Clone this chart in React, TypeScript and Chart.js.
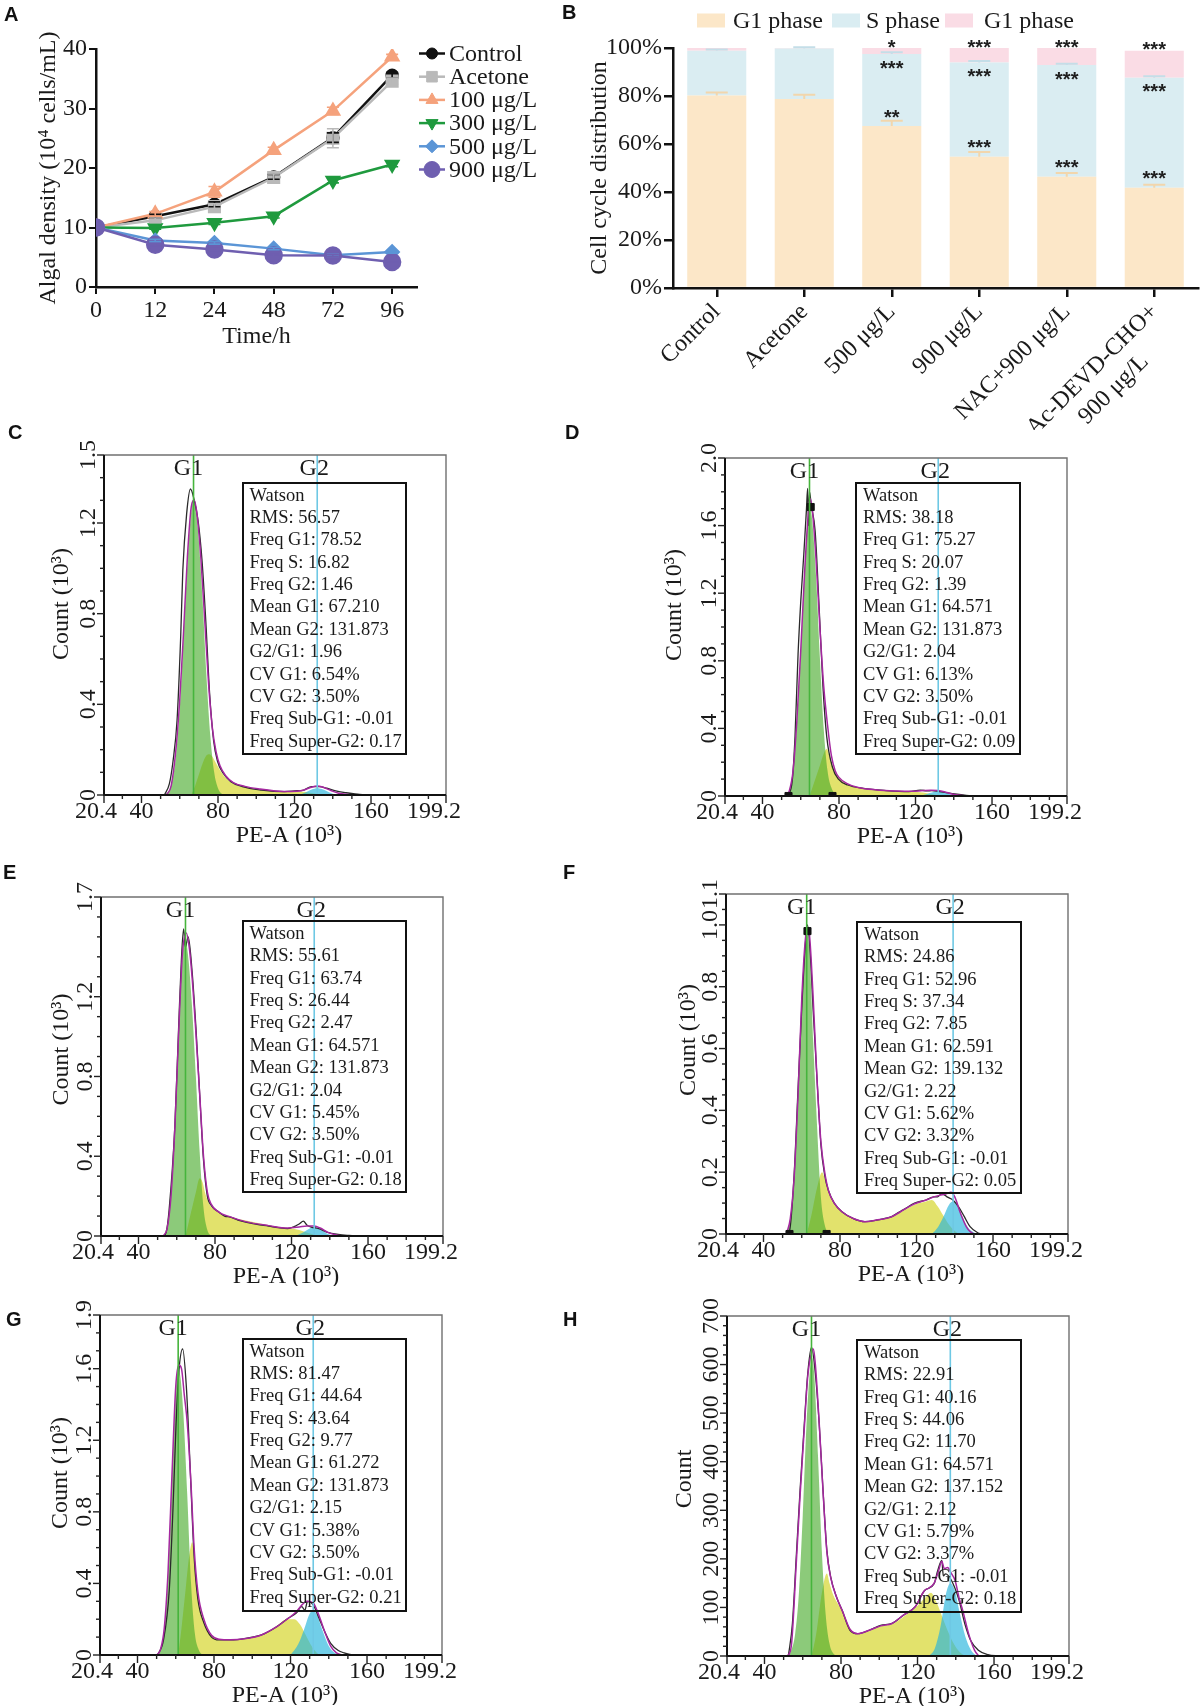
import React, { useEffect, useRef } from "react";
import { Chart, registerables } from "chart.js";
import { drawPoint } from "chart.js/helpers";
Chart.register(...registerables);

const SERIF = "'Liberation Serif', 'Times New Roman', serif";
const SANS = "'Liberation Sans', Arial, sans-serif";
const INK = "#1a1a1a";
Chart.defaults.font.family = SERIF;
Chart.defaults.color = INK;

// ---------------- Panel A data ----------------
const TIME_LABELS = ["0", "12", "24", "48", "72", "96"];
const CONTROL = [10.0, 11.9, 13.9, 18.5, 25.1, 35.6];
const ACETONE = [10.0, 11.2, 13.5, 18.4, 25.0, 34.6];
const D100 = [10.0, 12.3, 16.0, 23.0, 29.6, 38.7];
const D300 = [10.0, 9.9, 10.8, 11.9, 17.9, 20.6];
const D500 = [10.0, 7.8, 7.4, 6.45, 5.35, 5.9];
const D900 = [10.0, 7.1, 6.3, 5.35, 5.3, 4.2];
const CONTROL_ERR = [0, 0.3, 0.4, 0.4, 0.8, 0.5];
const ACETONE_ERR = [0, 0.4, 0.5, 0.6, 1.6, 0.5];
const D100_ERR = [0, 0.4, 0.9, 0.5, 0.6, 0.4];
const D300_ERR = [0, 0.2, 0.3, 0.3, 0.4, 0.4];
const D500_ERR = [0, 0.2, 0.2, 0.2, 0.2, 0.2];
const D900_ERR = [0, 0.2, 0.2, 0.2, 0.2, 0.2];

// ---------------- Panel B data ----------------
const B_CATS: any[] = ["Control", "Acetone", "500 μg/L", "900 μg/L", "NAC+900 μg/L", ["Ac-DEVD-CHO+", "900 μg/L\u00a0\u00a0\u00a0\u00a0\u00a0\u00a0\u00a0"]];
const B_SERIES_LABELS = ["G1 phase", "S phase", "G1 phase"];
const G1_PCT = [80.2, 78.8, 67.5, 54.7, 46.4, 41.8];
const S_PCT = [18.7, 21.0, 30.0, 39.3, 46.5, 45.8];
const G2_PCT = [1.1, 0.2, 2.5, 6.0, 7.1, 11.3];
const G1_ERR = [1.3, 1.7, 2.2, 2.0, 1.5, 1.2];
const S_ERR = [0.5, 0.5, 0.7, 0.6, 0.5, 0.6];
const STARS_G1 = ["", "", "**", "***", "***", "***"];
const STARS_S = ["", "", "***", "***", "***", "***"];
const STARS_G2 = ["", "", "*", "***", "***", "***"];

// ---------------- Flow cytometry data ----------------
const X_TICK_VALUES = [20.4, 40, 80, 120, 160, 199.2];
const X_TICK_LABELS = ["20.4", "40", "80", "120", "160", "199.2"];
const X_MINOR = [30, 50, 60, 70, 90, 100, 110, 130, 140, 150, 170, 180, 190];
const MEAN_G1 = [67.21, 64.571, 64.571, 62.591, 61.272, 64.571];
const MEAN_G2 = [131.873, 131.873, 131.873, 139.132, 131.873, 137.152];

const C_YTICKS = [0, 0.4, 0.8, 1.2, 1.5];
const C_YLABELS = ["0", "0.4", "0.8", "1.2", "1.5"];
const D_YTICKS = [0, 0.4, 0.8, 1.2, 1.6, 2.0];
const D_YLABELS = ["0", "0.4", "0.8", "1.2", "1.6", "2.0"];
const E_YTICKS = [0, 0.4, 0.8, 1.2, 1.7];
const E_YLABELS = ["0", "0.4", "0.8", "1.2", "1.7"];
const F_YTICKS = [0, 0.2, 0.4, 0.6, 0.8, 1.0, 1.1];
const F_YLABELS = ["0", "0.2", "0.4", "0.6", "0.8", "1.0", "1.1"];
const G_YTICKS = [0, 0.4, 0.8, 1.2, 1.6, 1.9];
const G_YLABELS = ["0", "0.4", "0.8", "1.2", "1.6", "1.9"];
const H_YTICKS = [0, 100, 200, 300, 400, 500, 600, 700];
const H_YLABELS = ["0", "100", "200", "300", "400", "500", "600", "700"];

const C_G1 = [[52, 0], [54, 0.015], [56, 0.06], [58, 0.17], [60, 0.38], [62, 0.7], [64, 1.02], [66, 1.25], [67.2, 1.29], [68.5, 1.26], [70, 1.12], [72, 0.85], [74, 0.52], [76, 0.26], [78, 0.1], [80, 0.03], [82, 0.005], [84, 0]];
const C_S = [[66, 0], [68, 0.04], [70, 0.09], [72, 0.14], [74, 0.175], [75.5, 0.18], [77, 0.17], [79, 0.14], [81, 0.11], [84, 0.075], [88, 0.05], [92, 0.037], [98, 0.027], [105, 0.02], [112, 0.016], [118, 0.015], [124, 0.014], [128, 0.01], [131, 0.005], [133, 0]];
const C_G2 = [[122, 0], [126, 0.012], [129, 0.024], [131.9, 0.03], [135, 0.024], [138, 0.012], [142, 0]];
const C_FIT = [[53, 0], [55.5, 0.04], [58, 0.2], [60, 0.42], [62, 0.72], [64, 1.05], [66, 1.27], [67.6, 1.3], [69, 1.24], [71, 1.05], [73, 0.78], [75, 0.5], [77, 0.3], [79, 0.19], [81, 0.13], [84, 0.085], [88, 0.055], [94, 0.038], [102, 0.026], [110, 0.018], [118, 0.015], [124, 0.02], [128, 0.032], [131.9, 0.04], [135, 0.034], [139, 0.02], [143, 0.008], [148, 0.002], [151, 0]];
const C_RAW = [[52, 0], [54.6, 0.05], [56.5, 0.15], [58.6, 0.33], [60.5, 0.7], [61.6, 0.99], [63.6, 1.24], [65.6, 1.35], [67.6, 1.3], [69.6, 1.21], [71.6, 1.04], [73.6, 0.77], [75.6, 0.45], [77.7, 0.24], [79.7, 0.15], [82.7, 0.096], [86.7, 0.059], [92.7, 0.037], [102.8, 0.022], [114.8, 0.015], [120, 0.018], [124.9, 0.022], [128.9, 0.037], [132.9, 0.037], [136.9, 0.03], [141, 0.019], [147, 0.01], [154, 0.003], [157, 0]];

const D_G1 = [[51, 0], [53, 0.01], [55, 0.07], [57, 0.27], [59, 0.62], [61, 1.08], [63, 1.52], [64.6, 1.72], [66, 1.63], [68, 1.3], [70, 0.82], [72, 0.4], [74, 0.15], [76, 0.05], [78, 0.01], [80, 0]];
const D_S = [[64.6, 0], [67, 0.08], [70, 0.18], [72, 0.25], [73.6, 0.28], [75, 0.24], [77, 0.17], [80, 0.11], [84, 0.075], [90, 0.05], [100, 0.035], [110, 0.028], [118, 0.025], [124, 0.02], [128, 0.012], [132, 0.004], [134, 0]];
const D_G2 = [[122, 0], [126, 0.012], [129, 0.022], [131.9, 0.028], [135, 0.022], [138, 0.01], [142, 0]];
const D_FIT = [[52, 0], [54, 0.03], [56, 0.15], [58, 0.45], [60, 0.86], [62, 1.32], [64, 1.68], [64.8, 1.76], [66, 1.7], [68, 1.4], [70, 1.0], [72, 0.65], [74, 0.42], [76, 0.24], [78, 0.15], [80, 0.11], [84, 0.075], [90, 0.05], [100, 0.036], [110, 0.03], [118, 0.028], [124, 0.032], [128, 0.034], [131.9, 0.032], [135, 0.025], [139, 0.012], [143, 0.004], [147, 0]];
const D_RAW = [[52, 0], [53.6, 0.01], [55.6, 0.095], [57, 0.35], [58.6, 0.84], [60, 1.15], [61.6, 1.43], [63, 1.7], [63.6, 1.82], [64.2, 1.6], [64.6, 1.8], [65.5, 1.72], [67.5, 1.57], [69.6, 1.12], [71.6, 0.65], [73.6, 0.35], [76.6, 0.17], [79.7, 0.1], [84.6, 0.065], [92.7, 0.045], [104.6, 0.032], [116.5, 0.026], [122.5, 0.035], [126, 0.03], [128.5, 0.032], [132.5, 0.026], [136, 0.02], [140.5, 0.012], [148, 0.002], [152, 0]];
const D_MARK = [[65.2, 1.71], [53.6, 0], [76.6, 0]];

const E_G1 = [[53, 0], [55, 0.04], [57, 0.2], [59, 0.53], [61, 1.0], [63, 1.4], [64.6, 1.48], [66, 1.4], [68, 1.15], [70, 0.8], [72, 0.42], [74, 0.14], [76, 0.03], [78, 0]];
const E_S = [[64.6, 0], [67, 0.1], [70, 0.22], [72, 0.29], [73.5, 0.27], [75, 0.21], [77, 0.16], [80, 0.13], [85, 0.105], [90, 0.09], [100, 0.07], [110, 0.05], [118, 0.04], [124, 0.03], [128, 0.018], [132, 0.006], [134, 0]];
const E_G2 = [[122, 0], [126, 0.018], [129, 0.035], [131.9, 0.045], [135, 0.035], [138, 0.015], [142, 0]];
const E_FIT = [[53, 0], [55, 0.04], [57, 0.2], [59, 0.54], [61, 1.02], [63, 1.42], [65, 1.52], [66.5, 1.45], [68, 1.3], [70, 1.02], [72, 0.71], [74, 0.4], [76, 0.22], [78, 0.16], [82, 0.12], [88, 0.096], [96, 0.072], [108, 0.052], [118, 0.04], [124, 0.045], [128, 0.05], [131.9, 0.05], [135, 0.04], [139, 0.018], [143, 0.006], [147, 0]];
const E_RAW = [[53, 0], [54.5, 0.02], [56, 0.13], [59, 0.55], [61, 1.05], [62.4, 1.38], [63.6, 1.54], [64.5, 1.45], [66, 1.5], [68, 1.33], [70, 1.05], [72, 0.71], [74, 0.38], [76, 0.2], [78, 0.154], [82, 0.12], [85, 0.1], [88, 0.095], [92, 0.08], [96, 0.07], [102, 0.058], [108, 0.05], [113, 0.042], [118, 0.037], [122, 0.05], [124, 0.06], [126.2, 0.075], [128, 0.055], [130.3, 0.045], [134.3, 0.037], [138.4, 0.02], [144.4, 0.008], [150, 0.003], [156, 0]];

const F_G1 = [[52, 0], [54, 0.05], [56, 0.17], [58, 0.42], [60, 0.74], [62, 0.95], [62.6, 0.97], [64, 0.92], [66, 0.62], [68, 0.35], [70, 0.12], [72, 0.03], [74, 0]];
const F_S = [[62.6, 0], [65, 0.06], [68, 0.15], [70.6, 0.2], [72, 0.18], [74, 0.14], [77, 0.1], [81, 0.072], [87, 0.05], [93, 0.04], [99, 0.045], [107, 0.056], [113, 0.075], [119, 0.095], [125, 0.105], [128, 0.11], [131, 0.09], [134, 0.06], [137, 0.03], [140, 0.01], [142, 0]];
const F_G2 = [[128, 0], [131, 0.02], [134, 0.055], [137, 0.095], [139.1, 0.105], [141, 0.095], [144, 0.055], [147, 0.02], [150, 0.005], [152, 0]];
const F_FIT = [[52, 0], [54, 0.05], [56, 0.18], [58, 0.44], [60, 0.76], [62, 0.96], [63.6, 0.99], [65, 0.88], [66, 0.76], [68, 0.5], [70, 0.3], [72, 0.2], [74, 0.14], [77, 0.1], [81, 0.072], [87, 0.05], [93, 0.04], [99, 0.045], [107, 0.056], [113, 0.077], [119, 0.098], [125, 0.11], [129, 0.12], [132, 0.125], [135.5, 0.13], [138, 0.135], [140, 0.12], [143, 0.067], [146, 0.024], [148, 0.008], [150, 0]];
const F_RAW = [[52, 0], [53.6, 0.01], [56, 0.19], [58, 0.46], [60, 0.73], [61.6, 0.91], [63, 1.0], [64.6, 0.89], [66, 0.72], [68, 0.5], [70, 0.29], [72, 0.19], [74, 0.14], [77, 0.1], [81, 0.072], [87, 0.05], [93, 0.04], [99, 0.045], [103, 0.05], [107, 0.056], [110, 0.068], [113, 0.078], [119, 0.1], [125, 0.11], [129, 0.12], [131, 0.12], [133, 0.13], [135, 0.125], [136, 0.12], [139, 0.11], [142, 0.088], [145, 0.056], [148, 0.024], [152, 0.004], [154, 0]];
const F_MARK = [[63.0, 0.98], [53.6, 0], [73.0, 0]];

const G_G1 = [[50, 0], [52, 0.03], [54, 0.14], [56, 0.45], [58, 0.98], [60, 1.48], [61.3, 1.6], [62.5, 1.55], [64, 1.35], [66, 0.9], [68, 0.4], [70, 0.12], [72, 0.03], [74, 0]];
const G_S = [[61.3, 0], [63, 0.15], [65, 0.35], [67, 0.55], [68.6, 0.63], [70, 0.5], [72, 0.33], [74, 0.21], [77, 0.13], [80, 0.1], [85, 0.085], [90, 0.085], [96, 0.09], [104, 0.11], [112, 0.155], [118, 0.2], [122, 0.2], [125, 0.17], [128, 0.11], [131, 0.05], [134, 0.01], [136, 0]];
const G_G2 = [[120, 0], [124, 0.06], [127, 0.14], [130, 0.23], [131.9, 0.25], [134, 0.22], [137, 0.13], [140, 0.05], [143, 0.012], [146, 0]];
const G_FIT = [[50, 0], [52, 0.03], [54, 0.15], [56, 0.47], [58, 1.0], [60, 1.5], [61.6, 1.62], [63, 1.6], [64.5, 1.45], [66, 1.3], [68, 0.95], [69.6, 0.6], [71.6, 0.35], [74.7, 0.2], [78.7, 0.11], [82.7, 0.088], [88.7, 0.085], [96.7, 0.092], [104.8, 0.112], [112.8, 0.158], [118.8, 0.205], [122.9, 0.24], [126, 0.28], [128.5, 0.3], [131.9, 0.29], [134.9, 0.22], [137.9, 0.13], [141, 0.05], [144, 0.012], [147, 0]];
const G_RAW = [[50.5, 0], [53.6, 0.084], [56.6, 0.36], [58.6, 0.83], [60.2, 1.3], [61.6, 1.58], [63.6, 1.71], [65.6, 1.49], [67.6, 1.03], [69.6, 0.55], [71.6, 0.31], [74.7, 0.18], [78.7, 0.1], [82.7, 0.084], [88.7, 0.084], [96.7, 0.093], [104.8, 0.112], [112.8, 0.158], [118.8, 0.205], [122.9, 0.233], [125.9, 0.27], [127.5, 0.25], [128.9, 0.3], [131.9, 0.28], [134.9, 0.205], [137.9, 0.13], [141, 0.065], [145, 0.025], [148, 0.012], [151, 0.004], [154, 0]];

const H_G1 = [[52, 0], [54, 12], [56, 45], [58, 130], [60, 290], [62, 480], [64, 600], [64.6, 615], [66, 580], [68, 410], [70, 215], [72, 85], [74, 25], [76, 5], [78, 0]];
const H_S = [[64.6, 0], [67, 45], [70, 130], [72.6, 170], [74, 150], [76, 125], [78, 110], [81, 90], [85, 55], [89, 45], [95, 52], [101, 62], [107, 66], [113, 82], [119, 100], [124, 120], [127, 130], [130, 110], [133, 80], [136, 50], [139, 25], [142, 8], [145, 0]];
const H_G2 = [[126, 0], [129, 15], [132, 60], [135, 130], [137.2, 150], [139.5, 135], [142, 90], [145, 40], [148, 12], [151, 0]];
const H_FIT = [[52, 0], [54, 20], [56.6, 190], [58.6, 330], [60.6, 455], [62.6, 575], [64.6, 625], [65.6, 632], [66.6, 600], [68.6, 480], [70.6, 340], [72.6, 215], [74.6, 162], [77.6, 122], [80.6, 94], [84.7, 55], [88.7, 46], [94.7, 53], [100.7, 62], [106.7, 67], [112.6, 84], [118.7, 101], [123.7, 135], [126, 140], [128.7, 150], [131, 175], [132.7, 195], [134, 180], [135.7, 182], [137.7, 170], [139.7, 155], [141.7, 120], [143.7, 93], [146.7, 46], [149.8, 12], [152, 0]];
const H_RAW = [[52.5, 0], [54.6, 67], [56.6, 204], [58.6, 341], [60.6, 464], [62.6, 581], [64.6, 636], [66.6, 581], [68.6, 478], [70.6, 341], [72.6, 218], [74.6, 163], [77.6, 122], [80.6, 94], [84.7, 53], [88.7, 46], [94.7, 53], [100.7, 63], [106.7, 67], [112.6, 84], [118.7, 101], [123.7, 135], [128.7, 149], [130.5, 175], [132.7, 197], [133.5, 165], [134.7, 169], [137.7, 156], [141.7, 115], [144.7, 67], [147.8, 32], [151.8, 12], [156.8, 3], [162.8, 0]];

const C_WATSON = ["Watson", "RMS: 56.57", "Freq G1: 78.52", "Freq S: 16.82", "Freq G2: 1.46", "Mean G1: 67.210", "Mean G2: 131.873", "G2/G1: 1.96", "CV G1: 6.54%", "CV G2: 3.50%", "Freq Sub-G1: -0.01", "Freq Super-G2: 0.17"];
const D_WATSON = ["Watson", "RMS: 38.18", "Freq G1: 75.27", "Freq S: 20.07", "Freq G2: 1.39", "Mean G1: 64.571", "Mean G2: 131.873", "G2/G1: 2.04", "CV G1: 6.13%", "CV G2: 3.50%", "Freq Sub-G1: -0.01", "Freq Super-G2: 0.09"];
const E_WATSON = ["Watson", "RMS: 55.61", "Freq G1: 63.74", "Freq S: 26.44", "Freq G2: 2.47", "Mean G1: 64.571", "Mean G2: 131.873", "G2/G1: 2.04", "CV G1: 5.45%", "CV G2: 3.50%", "Freq Sub-G1: -0.01", "Freq Super-G2: 0.18"];
const F_WATSON = ["Watson", "RMS: 24.86", "Freq G1: 52.96", "Freq S: 37.34", "Freq G2: 7.85", "Mean G1: 62.591", "Mean G2: 139.132", "G2/G1: 2.22", "CV G1: 5.62%", "CV G2: 3.32%", "Freq Sub-G1: -0.01", "Freq Super-G2: 0.05"];
const G_WATSON = ["Watson", "RMS: 81.47", "Freq G1: 44.64", "Freq S: 43.64", "Freq G2: 9.77", "Mean G1: 61.272", "Mean G2: 131.873", "G2/G1: 2.15", "CV G1: 5.38%", "CV G2: 3.50%", "Freq Sub-G1: -0.01", "Freq Super-G2: 0.21"];
const H_WATSON = ["Watson", "RMS: 22.91", "Freq G1: 40.16", "Freq S: 44.06", "Freq G2: 11.70", "Mean G1: 64.571", "Mean G2: 137.152", "G2/G1: 2.12", "CV G1: 5.79%", "CV G2: 3.37%", "Freq Sub-G1: -0.01", "Freq Super-G2: 0.18"];

// ---------------- styles ----------------
const B_COLORS = ["rgb(252,231,200)", "rgb(218,237,242)", "rgb(250,220,229)"];
const G1_FILL = "rgba(70,170,40,0.62)";
const S_FILL = "rgb(226,226,108)";
const G2_FILL = "rgba(40,180,220,0.66)";
const G1_LINE = "rgb(70,180,60)";
const G2_LINE = "rgb(110,200,228)";

const pts = (a: number[][]) => a.map(([x, y]) => ({ x, y }));

const A_SERIES = [
  { label: "Control", data: CONTROL, err: CONTROL_ERR, color: "#111111", style: "circle", r: 5.5, rot: 0 },
  { label: "Acetone", data: ACETONE, err: ACETONE_ERR, color: "#b9b9b9", style: "rect", r: 7.5, rot: 0 },
  { label: "100 μg/L", data: D100, err: D100_ERR, color: "#f5a27c", style: "triangle", r: 7, rot: 0 },
  { label: "300 μg/L", data: D300, err: D300_ERR, color: "#1f9a3e", style: "triangle", r: 7, rot: 180 },
  { label: "500 μg/L", data: D500, err: D500_ERR, color: "#5b95d6", style: "rectRot", r: 6.5, rot: 0 },
  { label: "900 μg/L", data: D900, err: D900_ERR, color: "#6f5fb0", style: "circle", r: 8, rot: 0 },
];

function makeA(): any {
  const plugin = {
    id: "aExtras",
    afterDatasetsDraw(chart: any) {
      const { ctx, scales } = chart;
      const xs = scales.x, ys = scales.y;
      ctx.save();
      A_SERIES.forEach((s) => {
        ctx.strokeStyle = s.color;
        ctx.lineWidth = 1.6;
        s.data.forEach((v, j) => {
          const e = s.err[j];
          if (!e) return;
          const px = xs.getPixelForValue(j);
          const y1 = ys.getPixelForValue(v + e), y2 = ys.getPixelForValue(v - e);
          ctx.beginPath();
          ctx.moveTo(px, y1); ctx.lineTo(px, y2);
          ctx.moveTo(px - 6, y1); ctx.lineTo(px + 6, y1);
          ctx.moveTo(px - 6, y2); ctx.lineTo(px + 6, y2);
          ctx.stroke();
        });
      });
      ctx.restore();
    },
    afterDraw(chart: any) {
      const { ctx } = chart;
      ctx.save();
      ctx.font = `24px ${SERIF}`;
      ctx.textBaseline = "middle";
      ctx.textAlign = "left";
      A_SERIES.forEach((s, i) => {
        const y = 53.5 + i * 23.2;
        ctx.strokeStyle = s.color;
        ctx.fillStyle = s.color;
        ctx.lineWidth = 2.5;
        ctx.beginPath(); ctx.moveTo(419, y); ctx.lineTo(445, y); ctx.stroke();
        ctx.lineWidth = 1;
        drawPoint(ctx, { pointStyle: s.style, rotation: s.rot, radius: s.r, borderWidth: 1 } as any, 432, y);
        ctx.fillStyle = INK;
        ctx.fillText(s.label, 449, y + 1);
      });
      ctx.restore();
    },
  };
  return {
    type: "line",
    data: {
      datasets: A_SERIES.map((s, i) => ({
        label: s.label,
        data: s.data.map((y, j) => ({ x: j, y })),
        borderColor: s.color,
        backgroundColor: s.color,
        pointBackgroundColor: s.color,
        pointBorderColor: s.color,
        pointStyle: s.style,
        pointRotation: s.rot,
        pointRadius: s.r,
        borderWidth: 2.5,
        tension: 0,
        order: 6 - i,
      })),
    },
    options: {
      responsive: false,
      animation: false,
      layout: { padding: { left: 30, top: 49, right: 143, bottom: 0 } },
      plugins: { legend: { display: false }, tooltip: { enabled: false } },
      scales: {
        x: {
          type: "linear",
          min: 0,
          max: 5.42,
          afterBuildTicks: (s: any) => { s.ticks = TIME_LABELS.map((_, i) => ({ value: i })); },
          afterFit: (s: any) => { s.height = 68; },
          ticks: { callback: (v: any) => TIME_LABELS[v], font: { size: 24, family: SERIF }, color: INK, padding: 2, maxRotation: 0, autoSkip: false },
          grid: { drawOnChartArea: false, tickLength: 7, color: "#111", lineWidth: 2 },
          border: { color: "#111", width: 2.5 },
          title: { display: true, text: "Time/h", font: { size: 24, family: SERIF }, color: INK, padding: { top: 0, bottom: 4 } },
        },
        y: {
          min: 0,
          max: 40,
          afterFit: (s: any) => { s.width = 66; },
          ticks: { stepSize: 10, font: { size: 24, family: SERIF }, color: INK, padding: 2 },
          grid: { drawOnChartArea: false, tickLength: 7, color: "#111", lineWidth: 2 },
          border: { color: "#111", width: 2.5 },
          title: { display: true, text: "Algal density (10⁴ cells/mL)", font: { size: 24, family: SERIF }, color: INK, padding: { top: 4, bottom: 0 } },
        },
      },
    },
    plugins: [plugin],
  };
}

function makeB(): any {
  const plugin = {
    id: "bExtras",
    afterDatasetsDraw(chart: any) {
      const { ctx, scales } = chart;
      const xs = scales.x, ys = scales.y;
      ctx.save();
      const err = (cx: number, v: number, e: number, col: string) => {
        const y1 = ys.getPixelForValue(v), y2 = ys.getPixelForValue(v + e);
        ctx.strokeStyle = col; ctx.lineWidth = 2;
        ctx.beginPath();
        ctx.moveTo(cx, y1); ctx.lineTo(cx, y2);
        ctx.moveTo(cx - 11, y2); ctx.lineTo(cx + 11, y2);
        ctx.stroke();
      };
      G1_PCT.forEach((g1, i) => {
        const cx = xs.getPixelForValue(i);
        err(cx, g1, G1_ERR[i], "rgb(242,214,172)");
        err(cx, g1 + S_PCT[i], S_ERR[i], "rgb(196,222,232)");
      });
      ctx.font = `bold 20px ${SANS}`;
      ctx.fillStyle = "#1e1e1e";
      ctx.textAlign = "center";
      ctx.textBaseline = "alphabetic";
      const top100 = ys.getPixelForValue(100);
      G1_PCT.forEach((g1, i) => {
        const cx = xs.getPixelForValue(i);
        const yG1 = ys.getPixelForValue(g1);
        const yS = ys.getPixelForValue(g1 + S_PCT[i]);
        const yT = Math.max(ys.getPixelForValue(g1 + S_PCT[i] + G2_PCT[i]), top100);
        if (STARS_G1[i]) ctx.fillText(STARS_G1[i], cx, yG1 - 14 + 11.6);
        if (STARS_S[i]) ctx.fillText(STARS_S[i], cx, yS + 9 + 11.6);
        if (STARS_G2[i]) ctx.fillText(STARS_G2[i], cx, yT - 6 + 11.6);
      });
      ctx.restore();
    },
    afterDraw(chart: any) {
      const { ctx } = chart;
      const items = [
        { sx: 137, tx: 173 },
        { sx: 272, tx: 306 },
        { sx: 385, tx: 424 },
      ];
      ctx.save();
      ctx.font = `24px ${SERIF}`;
      ctx.textBaseline = "middle";
      ctx.textAlign = "left";
      items.forEach((it, i) => {
        ctx.fillStyle = B_COLORS[i];
        ctx.fillRect(it.sx, 13.5, 28, 14);
        ctx.fillStyle = INK;
        ctx.fillText(B_SERIES_LABELS[i], it.tx, 21.5);
      });
      ctx.restore();
    },
  };
  const series = [G1_PCT, S_PCT, G2_PCT];
  return {
    type: "bar",
    data: {
      labels: B_CATS,
      datasets: series.map((d, i) => ({
        label: B_SERIES_LABELS[i],
        data: d,
        backgroundColor: B_COLORS[i],
        borderWidth: 0,
        barPercentage: 0.675,
        categoryPercentage: 1,
      })),
    },
    options: {
      responsive: false,
      animation: false,
      layout: { padding: { left: 21, top: 48, right: 2, bottom: 0 } },
      plugins: { legend: { display: false }, tooltip: { enabled: false } },
      scales: {
        x: {
          stacked: true,
          afterFit: (s: any) => { s.height = 142; },
          ticks: { minRotation: 45, maxRotation: 45, autoSkip: false, font: { size: 24, family: SERIF }, color: INK, padding: 1 },
          grid: { drawOnChartArea: false, offset: false, tickLength: 9, color: "#111", lineWidth: 2.5 },
          border: { color: "#111", width: 2.5 },
        },
        y: {
          stacked: true,
          min: 0,
          max: 100,
          afterFit: (s: any) => { s.width = 92; },
          ticks: { stepSize: 20, callback: (v: any) => `${v}%`, font: { size: 24, family: SERIF }, color: INK, padding: 2 },
          grid: { drawOnChartArea: false, tickLength: 9, color: "#111", lineWidth: 2.5 },
          border: { color: "#111", width: 2.5 },
          title: { display: true, text: "Cell cycle distribution", font: { size: 24, family: SERIF }, color: INK, padding: { top: 4, bottom: 0 } },
        },
      },
    },
    plugins: [plugin],
  };
}

// ---------------- flow panels ----------------
const FLOW: any[] = [
  { key: "C", L: 104, T: 455, R: 446, B: 795, ymax: 1.5, yt: C_YTICKS, yl: C_YLABELS, ym: 0.1, g1: MEAN_G1[0], g2: MEAN_G2[0], G1: C_G1, S: C_S, G2: C_G2, FIT: C_FIT, RAW: C_RAW, MARK: [], ytitle: "Count (10³)", ytdx: 42, ytdy: -21, box: [241.5, 481.7, 165, 273.3], watson: C_WATSON },
  { key: "D", L: 725, T: 458, R: 1067, B: 796, ymax: 2.0, yt: D_YTICKS, yl: D_YLABELS, ym: 0.1, g1: MEAN_G1[1], g2: MEAN_G2[1], G1: D_G1, S: D_S, G2: D_G2, FIT: D_FIT, RAW: D_RAW, MARK: D_MARK, ytitle: "Count (10³)", ytdx: 50, ytdy: -22, box: [855, 481.7, 166, 273.3], watson: D_WATSON },
  { key: "E", L: 101, T: 897, R: 443, B: 1236, ymax: 1.7, yt: E_YTICKS, yl: E_YLABELS, ym: 0.1, g1: MEAN_G1[2], g2: MEAN_G2[2], G1: E_G1, S: E_S, G2: E_G2, FIT: E_FIT, RAW: E_RAW, MARK: [], ytitle: "Count (10³)", ytdx: 39, ytdy: -17, box: [241.5, 920, 165, 273], watson: E_WATSON },
  { key: "F", L: 726, T: 894, R: 1068, B: 1234, ymax: 1.1, yt: F_YTICKS, yl: F_YLABELS, ym: 0.05, g1: MEAN_G1[3], g2: MEAN_G2[3], G1: F_G1, S: F_S, G2: F_G2, FIT: F_FIT, RAW: F_RAW, MARK: F_MARK, ytitle: "Count (10³)", ytdx: 37, ytdy: -24, box: [856, 921, 166, 273], watson: F_WATSON },
  { key: "G", L: 100, T: 1315, R: 442, B: 1655, ymax: 1.9, yt: G_YTICKS, yl: G_YLABELS, ym: 0.1, g1: MEAN_G1[4], g2: MEAN_G2[4], G1: G_G1, S: G_S, G2: G_G2, FIT: G_FIT, RAW: G_RAW, MARK: [], ytitle: "Count (10³)", ytdx: 39, ytdy: -12, box: [241.5, 1337.7, 165, 274], watson: G_WATSON },
  { key: "H", L: 727, T: 1316, R: 1069, B: 1656, ymax: 700, yt: H_YTICKS, yl: H_YLABELS, ym: 20, g1: MEAN_G1[5], g2: MEAN_G2[5], G1: H_G1, S: H_S, G2: H_G2, FIT: H_FIT, RAW: H_RAW, MARK: [], ytitle: "Count", ytdx: 42, ytdy: -7, box: [856, 1339, 166, 274], watson: H_WATSON },
];

function flowGeom(p: any) {
  const cl = p.L < 560 ? 0 : 580;
  const cw = p.L < 560 ? 580 : 620;
  const ct = p.T - 45;
  const ch = p.B - p.T + 95;
  return { cl, cw, ct, ch };
}

function makeFlow(p: any): any {
  const g = flowGeom(p);
  const plugin = {
    id: "flow" + p.key,
    afterDatasetsDraw(chart: any) {
      const { ctx, chartArea: a, scales } = chart;
      ctx.save();
      ctx.lineWidth = 1.6;
      [[p.g1, G1_LINE], [p.g2, G2_LINE]].forEach(([v, c]: any) => {
        const px = scales.x.getPixelForValue(v);
        ctx.strokeStyle = c;
        ctx.beginPath(); ctx.moveTo(px, a.top); ctx.lineTo(px, a.bottom); ctx.stroke();
      });
      ctx.restore();
    },
    afterDraw(chart: any) {
      const { ctx, chartArea: a, scales } = chart;
      const xs = scales.x, ys = scales.y;
      const seg = (x1: number, y1: number, x2: number, y2: number) => { ctx.beginPath(); ctx.moveTo(x1, y1); ctx.lineTo(x2, y2); ctx.stroke(); };
      ctx.save();
      ctx.strokeStyle = "#707070"; ctx.lineWidth = 1.4;
      ctx.beginPath(); ctx.moveTo(a.left, a.top); ctx.lineTo(a.right, a.top); ctx.lineTo(a.right, a.bottom); ctx.stroke();
      ctx.strokeStyle = "#111"; ctx.lineWidth = 2;
      ctx.beginPath(); ctx.moveTo(a.left, a.top); ctx.lineTo(a.left, a.bottom); ctx.lineTo(a.right, a.bottom); ctx.stroke();
      ctx.lineWidth = 1.4; ctx.strokeStyle = "#222";
      X_TICK_VALUES.forEach((v) => { const px = xs.getPixelForValue(v); seg(px, a.bottom, px, a.bottom + 8); });
      X_MINOR.forEach((v) => { const px = xs.getPixelForValue(v); seg(px, a.bottom, px, a.bottom + 4); });
      p.yt.forEach((v: number) => { const py = ys.getPixelForValue(v); seg(a.left - 7, py, a.left, py); });
      const nMinor = Math.round(p.ymax / p.ym);
      for (let i = 1; i < nMinor; i++) {
        const v = i * p.ym;
        if (p.yt.some((t: number) => Math.abs(t - v) < 1e-6)) continue;
        const py = ys.getPixelForValue(v); seg(a.left - 4, py, a.left, py);
      }
      ctx.fillStyle = INK;
      ctx.font = `24px ${SERIF}`;
      ctx.textAlign = "center";
      ctx.textBaseline = "middle";
      const last = X_TICK_VALUES.length - 1;
      X_TICK_VALUES.forEach((v, i) => {
        const dx = i === 0 ? -8 : i === last ? -12 : 0;
        ctx.fillText(X_TICK_LABELS[i], xs.getPixelForValue(v) + dx, a.bottom + 17);
      });
      p.yt.forEach((v: number, i: number) => {
        ctx.save();
        ctx.translate(a.left - 15.5, ys.getPixelForValue(v));
        ctx.rotate(-Math.PI / 2);
        ctx.fillText(p.yl[i], 0, 0);
        ctx.restore();
      });
      ctx.fillText("PE-A (10³)", (a.left + a.right) / 2 + 14, a.bottom + 41);
      ctx.save();
      ctx.translate(a.left - p.ytdx, (a.top + a.bottom) / 2 + p.ytdy);
      ctx.rotate(-Math.PI / 2);
      ctx.fillText(p.ytitle, 0, 0);
      ctx.restore();
      ctx.fillText("G1", xs.getPixelForValue(p.g1) - 5, a.top + 14);
      ctx.fillText("G2", xs.getPixelForValue(p.g2) - 3, a.top + 14);
      ctx.restore();
    },
  };
  const mono = { pointRadius: 0, cubicInterpolationMode: "monotone" };
  return {
    type: "line",
    data: {
      datasets: [
        { label: "Markers", data: pts(p.MARK), showLine: false, pointStyle: "rect", pointRadius: 5, pointBackgroundColor: "#111", pointBorderColor: "#111", order: 1 },
        { label: "Fit", data: pts(p.FIT), borderColor: "rgb(165,40,160)", borderWidth: 1.5, fill: false, ...mono, order: 2 },
        { label: "Raw", data: pts(p.RAW), borderColor: "#2a2a2a", borderWidth: 1.3, fill: false, ...mono, order: 3 },
        { label: "G2", data: pts(p.G2), borderWidth: 0, borderColor: "rgba(0,0,0,0)", backgroundColor: G2_FILL, fill: "origin", ...mono, order: 4 },
        { label: "G1", data: pts(p.G1), borderWidth: 0, borderColor: "rgba(0,0,0,0)", backgroundColor: G1_FILL, fill: "origin", ...mono, order: 5 },
        { label: "S", data: pts(p.S), borderWidth: 0, borderColor: "rgba(0,0,0,0)", backgroundColor: S_FILL, fill: "origin", ...mono, order: 6 },
      ],
    },
    options: {
      responsive: false,
      animation: false,
      layout: { padding: { left: p.L - g.cl, top: p.T - g.ct, right: g.cl + g.cw - p.R, bottom: g.ct + g.ch - p.B } },
      plugins: { legend: { display: false }, tooltip: { enabled: false } },
      scales: {
        x: { type: "linear", min: 20.4, max: 199.2, display: false },
        y: { type: "linear", min: 0, max: p.ymax, display: false },
      },
    },
    plugins: [plugin],
  };
}

function ChartBox({ left, top, width, height, make }: any) {
  const ref = useRef<HTMLCanvasElement | null>(null);
  useEffect(() => {
    if (!ref.current) return;
    const chart = new Chart(ref.current, make());
    return () => chart.destroy();
  }, []);
  return <canvas ref={ref} width={width} height={height} style={{ position: "absolute", left, top, width, height }} />;
}

function Watson({ box, lines }: any) {
  const [left, top, width, height] = box;
  return (
    <div style={{ position: "absolute", left, top, width, height, boxSizing: "border-box", border: "2.5px solid #111", paddingLeft: 6, fontFamily: SERIF, fontSize: 18.5, lineHeight: "22.36px", color: INK, whiteSpace: "nowrap" }}>
      {lines.map((t: string, i: number) => <div key={i}>{t}</div>)}
    </div>
  );
}

const LETTERS = [
  { t: "A", x: 4, y: 4 }, { t: "B", x: 562, y: 2 },
  { t: "C", x: 8, y: 422 }, { t: "D", x: 565, y: 422 },
  { t: "E", x: 3, y: 862 }, { t: "F", x: 563, y: 862 },
  { t: "G", x: 6, y: 1309 }, { t: "H", x: 563, y: 1309 },
];

export default function App() {
  return (
    <div style={{ position: "absolute", left: 0, top: 0, width: 1200, height: 1708, background: "#fff", overflow: "hidden" }}>
      <ChartBox left={0} top={0} width={560} height={355} make={makeA} />
      <ChartBox left={560} top={0} width={640} height={430} make={makeB} />
      {FLOW.map((p) => {
        const g = flowGeom(p);
        return <ChartBox key={p.key} left={g.cl} top={g.ct} width={g.cw} height={g.ch} make={() => makeFlow(p)} />;
      })}
      {FLOW.map((p) => <Watson key={"w" + p.key} box={p.box} lines={p.watson} />)}
      {LETTERS.map((l) => (
        <div key={l.t} style={{ position: "absolute", left: l.x, top: l.y, fontFamily: SANS, fontWeight: 700, fontSize: 20, lineHeight: "20px", color: "#111" }}>{l.t}</div>
      ))}
    </div>
  );
}
